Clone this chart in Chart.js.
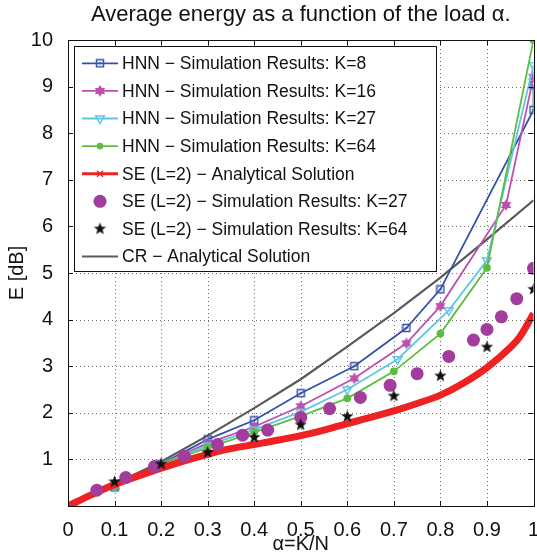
<!DOCTYPE html>
<html>
<head>
<meta charset="utf-8">
<script src="https://cdn.jsdelivr.net/npm/chart.js@4/dist/chart.umd.min.js"></script>
<style>
  html, body { margin: 0; padding: 0; background: #fff; }
</style>
</head>
<body>
<canvas id="c" width="537" height="556"></canvas>
<script>
// data
const labelsHNN = ['HNN \u2212 Simulation Results: K=8', 'HNN \u2212 Simulation Results: K=16',
  'HNN \u2212 Simulation Results: K=27', 'HNN \u2212 Simulation Results: K=64'];

const alphaK8 = [0.1, 0.2, 0.3, 0.4, 0.5, 0.615, 0.727, 0.8, 1.0, 1.0];
const energyK8 = [0.40, 0.90, 1.43, 1.84, 2.42, 3.00, 3.82, 4.65, 8.50, 9.03];

const alphaK16 = [0.1, 0.2, 0.3, 0.4, 0.5, 0.615, 0.727, 0.8, 0.941, 1.0];
const energyK16 = [0.42, 0.90, 1.35, 1.70, 2.14, 2.74, 3.49, 4.29, 6.46, 9.21];

const alphaK27 = [0.1, 0.2, 0.3, 0.4, 0.5, 0.6, 0.708, 0.818, 0.9, 1.0];
const energyK27 = [0.42, 0.90, 1.30, 1.64, 2.02, 2.50, 3.15, 4.20, 5.27, 9.46];

const alphaK64 = [0.1, 0.2, 0.3, 0.4, 0.5, 0.6, 0.7, 0.8, 0.9, 1.0];
const energyK64 = [0.42, 0.90, 1.25, 1.58, 1.93, 2.31, 2.89, 3.70, 5.11, 10.0];

const alphaSE = [0, 0.05, 0.1, 0.15, 0.2, 0.25, 0.3, 0.35, 0.4, 0.45, 0.5, 0.55, 0.6, 0.65, 0.7, 0.75, 0.8, 0.85, 0.9, 0.95, 0.97, 1.0];
const energySE = [0, 0.24, 0.46, 0.64, 0.81, 0.97, 1.11, 1.23, 1.32, 1.41, 1.51, 1.63, 1.77, 1.90, 2.04, 2.20, 2.38, 2.64, 2.97, 3.40, 3.62, 4.13];

const alphaSE27 = [0.062, 0.124, 0.186, 0.25, 0.321, 0.375, 0.429, 0.5, 0.562, 0.628, 0.692, 0.75, 0.818, 0.871, 0.9, 0.931, 0.964, 1.0];
const energySE27 = [0.34, 0.61, 0.85, 1.07, 1.32, 1.52, 1.63, 1.90, 2.09, 2.33, 2.59, 2.84, 3.21, 3.56, 3.79, 4.06, 4.45, 5.10];

const alphaSE64 = [0.1, 0.2, 0.3, 0.4, 0.5, 0.6, 0.7, 0.8, 0.9, 1.0];
const energySE64 = [0.52, 0.90, 1.15, 1.47, 1.74, 1.92, 2.36, 2.79, 3.41, 4.65];

const alphaCR = [0, 0.1, 0.2, 0.3, 0.4, 0.5, 0.6, 0.7, 0.8, 0.9, 1.0];
const energyCR = [0, 0.47, 0.95, 1.51, 2.10, 2.72, 3.42, 4.14, 4.90, 5.72, 6.56];

const xTicks = [0, 0.1, 0.2, 0.3, 0.4, 0.5, 0.6, 0.7, 0.8, 0.9, 1];
const yTicks = [0, 1, 2, 3, 4, 5, 6, 7, 8, 9, 10];

const pts = (xs, ys) => xs.map((x, i) => ({x: x, y: ys[i]}));

// marker images
function starImg(n, rOut, rIn, fill) {
  const s = Math.ceil(rOut * 2 + 2);
  const cv = document.createElement('canvas');
  cv.width = s; cv.height = s;
  const g = cv.getContext('2d');
  g.beginPath();
  for (let i = 0; i < n * 2; i++) {
    const r = i % 2 ? rIn : rOut;
    const a = -Math.PI / 2 + i * Math.PI / n;
    g.lineTo(s / 2 + r * Math.cos(a), s / 2 + r * Math.sin(a));
  }
  g.closePath();
  g.fillStyle = fill;
  g.fill();
  return cv;
}
function squareImg(col) {
  const cv = document.createElement('canvas');
  cv.width = 10; cv.height = 10;
  const g = cv.getContext('2d');
  g.strokeStyle = col; g.lineWidth = 1.5;
  g.strokeRect(1.5, 1.5, 7, 7);
  g.fillStyle = col;
  g.fillRect(4, 4, 2, 2);
  return cv;
}

const cBlue = '#3552a8', cMag = '#bd4fb3', cCyan = '#5dc8e2', cGreen = '#5dbd41';
const cRed = '#ee2222', cPurple = '#a33c9c', cGray = '#5a5a5a';

const hexStar = starImg(6, 6, 3.4, cMag);
const blackStar = starImg(5, 6.5, 2.7, '#111');
const blueSq = squareImg(cBlue);

const datasets = [
  {label: labelsHNN[0], data: pts(alphaK8, energyK8), borderColor: cBlue, borderWidth: 1.8,
   pointStyle: blueSq, pointRadius: 5, order: 6},
  {label: labelsHNN[1], data: pts(alphaK16, energyK16), borderColor: cMag, borderWidth: 1.8,
   pointStyle: hexStar, pointRadius: 6, order: 5},
  {label: labelsHNN[2], data: pts(alphaK27, energyK27), borderColor: cCyan, borderWidth: 1.8,
   pointStyle: 'triangle', rotation: 180, pointRadius: 5, pointBorderWidth: 1.5,
   pointBackgroundColor: 'rgba(255,255,255,0)', pointBorderColor: cCyan, order: 4},
  {label: labelsHNN[3], data: pts(alphaK64, energyK64), borderColor: cGreen, borderWidth: 1.8,
   pointStyle: 'circle', pointRadius: 3, pointBackgroundColor: cGreen, pointBorderColor: cGreen, order: 3},
  {label: 'SE (L=2) \u2212 Analytical Solution', data: pts(alphaSE, energySE), borderColor: cRed, borderWidth: 7,
   cubicInterpolationMode: 'monotone', pointRadius: 0, order: 2},
  {label: 'SE (L=2) \u2212 Simulation Results: K=27', data: pts(alphaSE27, energySE27), showLine: false,
   pointStyle: 'circle', pointRadius: 6.5, pointBackgroundColor: cPurple, pointBorderColor: cPurple, pointBorderWidth: 0, order: 1},
  {label: 'SE (L=2) \u2212 Simulation Results: K=64', data: pts(alphaSE64, energySE64), showLine: false,
   pointStyle: blackStar, pointRadius: 6, order: 0},
  {label: 'CR \u2212 Analytical Solution', data: pts(alphaCR, energyCR), borderColor: cGray, borderWidth: 2.2,
   pointRadius: 0, order: 7}
];

const FONT = '"Liberation Sans", Arial, Helvetica, sans-serif';

// dotted grid under the data
const dotGrid = {
  id: 'dotGrid',
  beforeDatasetsDraw(chart) {
    const {ctx, chartArea: a, scales} = chart;
    ctx.save();
    ctx.strokeStyle = '#6f6f6f';
    ctx.lineWidth = 1;
    ctx.setLineDash([1, 3]);
    xTicks.forEach(v => {
      const px = Math.round(scales.x.getPixelForValue(v)) + 0.5;
      ctx.beginPath(); ctx.moveTo(px, a.bottom); ctx.lineTo(px, a.top); ctx.stroke();
    });
    yTicks.forEach(v => {
      const py = Math.round(scales.y.getPixelForValue(v)) + 0.5;
      ctx.beginPath(); ctx.moveTo(a.left, py); ctx.lineTo(a.right, py); ctx.stroke();
    });
    ctx.restore();
  }
};

const frame = {
  id: 'frame',
  afterDraw(chart) {
    const {ctx, chartArea: a, scales} = chart;
    ctx.save();
    ctx.strokeStyle = '#111';
    ctx.lineWidth = 1;
    ctx.beginPath();
    xTicks.forEach(v => {
      const px = Math.round(scales.x.getPixelForValue(v)) + 0.5;
      ctx.moveTo(px, a.bottom); ctx.lineTo(px, a.bottom - 5);
      ctx.moveTo(px, a.top); ctx.lineTo(px, a.top + 5);
    });
    yTicks.forEach(v => {
      const py = Math.round(scales.y.getPixelForValue(v)) + 0.5;
      ctx.moveTo(a.left, py); ctx.lineTo(a.left + 5, py);
      ctx.moveTo(a.right, py); ctx.lineTo(a.right - 5, py);
    });
    ctx.stroke();
    ctx.strokeRect(Math.round(a.left) + 0.5, Math.round(a.top) + 0.5,
      Math.round(a.right - a.left), Math.round(a.bottom - a.top));

    // title
    ctx.fillStyle = '#111';
    ctx.font = '22px ' + FONT;
    ctx.textAlign = 'center';
    ctx.textBaseline = 'middle';
    ctx.fillText('Average energy as a function of the load \u03b1.', (a.left + a.right) / 2, 15);

    // legend box
    const lx = a.left + 6, ly = a.top + 6, lw = 362, lh = 225;
    ctx.fillStyle = '#fff';
    ctx.fillRect(lx, ly, lw, lh);
    ctx.strokeStyle = '#111';
    ctx.strokeRect(Math.round(lx) + 0.5, Math.round(ly) + 0.5, lw, lh);
    const rowH = 27.6;
    chart.data.datasets.forEach((ds, i) => {
      const cy = ly + 17.3 + i * rowH;
      const x0 = lx + 8, x1 = lx + 44, xm = (x0 + x1) / 2;
      if (ds.showLine !== false) {
        ctx.strokeStyle = ds.borderColor;
        ctx.lineWidth = Math.min(ds.borderWidth, 3);
        ctx.beginPath(); ctx.moveTo(x0, cy); ctx.lineTo(x1, cy); ctx.stroke();
      }
      if (i === 4) {
        ctx.strokeStyle = cRed; ctx.lineWidth = 1.5;
        ctx.beginPath();
        ctx.moveTo(xm - 3, cy - 3); ctx.lineTo(xm + 3, cy + 3);
        ctx.moveTo(xm - 3, cy + 3); ctx.lineTo(xm + 3, cy - 3);
        ctx.stroke();
      } else if (ds.pointRadius > 0) {
        ctx.fillStyle = ds.pointBackgroundColor || ds.borderColor;
        ctx.strokeStyle = ds.pointBorderColor || ds.borderColor;
        ctx.lineWidth = ds.pointBorderWidth === undefined ? 1 : ds.pointBorderWidth;
        Chart.helpers.drawPoint(ctx, {
          pointStyle: ds.pointStyle, radius: ds.pointRadius, rotation: ds.rotation || 0,
          borderWidth: ds.pointBorderWidth === undefined ? 1 : ds.pointBorderWidth
        }, xm, cy);
      }
      ctx.fillStyle = '#111';
      ctx.font = '17.5px ' + FONT;
      ctx.textAlign = 'left';
      ctx.fillText(ds.label, lx + 48, cy + 1);
    });
    ctx.restore();
  }
};

new Chart(document.getElementById('c'), {
  type: 'line',
  data: {datasets: datasets},
  options: {
    responsive: false,
    animation: false,
    layout: {autoPadding: false, padding: {top: 40, right: 3.5, left: 0, bottom: 0}},
    plugins: {legend: {display: false}, title: {display: false}, tooltip: {enabled: false}},
    scales: {
      x: {
        type: 'linear', min: 0, max: 1,
        afterBuildTicks: s => { s.ticks = xTicks.map(v => ({value: v})); },
        afterFit: s => { s.height = 50; s.paddingLeft = 0; s.paddingRight = 0; },
        grid: {display: false},
        border: {display: false},
        ticks: {color: '#111', font: {family: FONT, size: 20}, padding: 4, maxRotation: 0,
          callback: v => String(v)},
        title: {display: true, text: '\u03b1=K/N', color: '#111', font: {family: FONT, size: 20}, padding: 0}
      },
      y: {
        min: 0, max: 10,
        afterBuildTicks: s => { s.ticks = yTicks.map(v => ({value: v})); },
        afterFit: s => { s.width = 68; s.paddingTop = 0; s.paddingBottom = 0; },
        grid: {display: false},
        border: {display: false},
        ticks: {color: '#111', font: {family: FONT, size: 20}, padding: 7,
          callback: v => v === 0 ? '' : String(v)},
        title: {display: true, text: 'E [dB]', color: '#111', font: {family: FONT, size: 20}, padding: {top: 5, bottom: 0}}
      }
    }
  },
  plugins: [dotGrid, frame]
});
</script>
</body>
</html>
